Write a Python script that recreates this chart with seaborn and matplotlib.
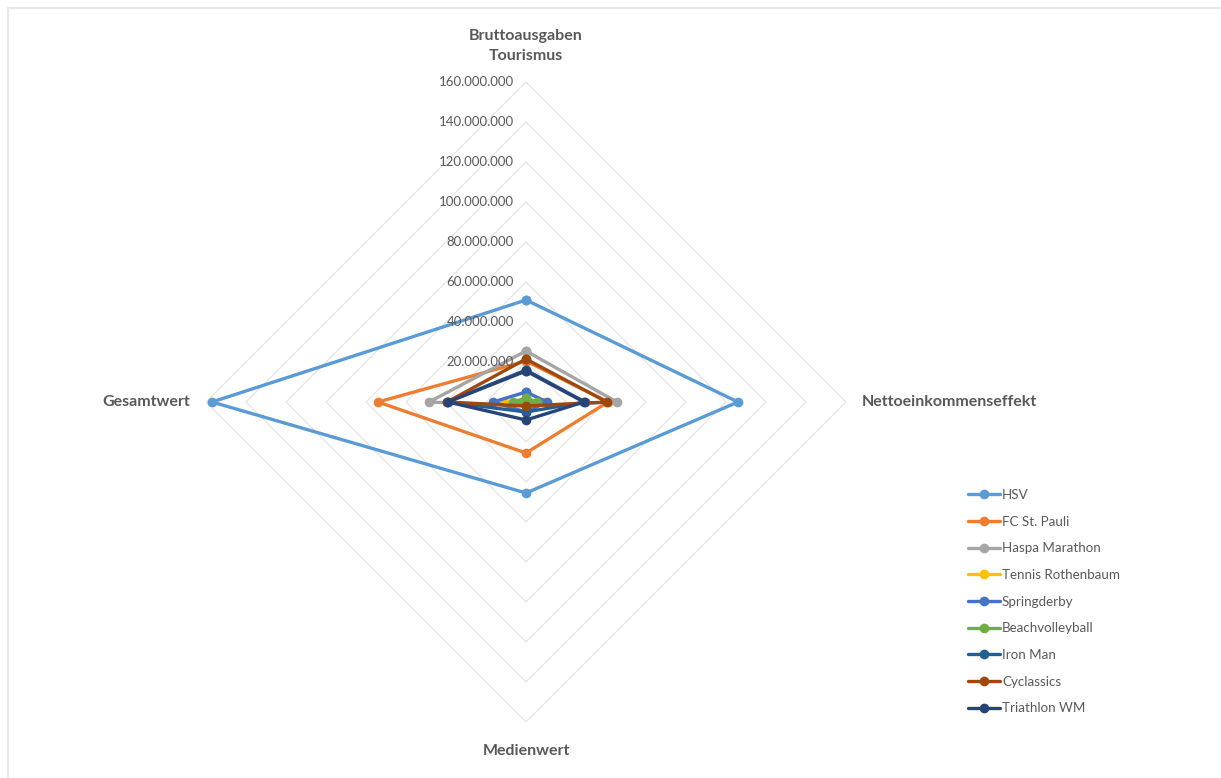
import numpy as np
import pandas as pd
import seaborn as sns
import matplotlib.pyplot as plt
from matplotlib.transforms import offset_copy
from matplotlib.patches import Rectangle

# categories (clockwise from top)
categories = ['Bruttoausgaben\nTourismus', 'Nettoeinkommenseffekt', 'Medienwert', 'Gesamtwert']

# values in Mio. EUR, same order as categories
hsv = [51, 106, 45.5, 157]
st_pauli = [20.5, 41, 25.5, 74]
haspa = [25.5, 45.5, 2, 48.5]
tennis = [1, 9, 2, 11]
springderby = [5, 10.5, 5, 16.5]
beach = [2, 5.5, 1, 6.5]
ironman = [16, 29.5, 5, 39.5]
cyclassics = [21.5, 40.5, 2, 39.5]
triathlon = [15.5, 29, 9, 39]

series = ['HSV', 'FC St. Pauli', 'Haspa Marathon', 'Tennis Rothenbaum', 'Springderby',
          'Beachvolleyball', 'Iron Man', 'Cyclassics', 'Triathlon WM']
values = [hsv, st_pauli, haspa, tennis, springderby, beach, ironman, cyclassics, triathlon]
colors = ['#5B9BD5', '#ED7D31', '#A5A5A5', '#FFC000', '#4472C4',
          '#70AD47', '#255E91', '#9E480E', '#264478']

ticks = np.arange(20, 161, 20)

theta = np.arange(len(categories)) * 2 * np.pi / len(categories)

rows = []
for name, vals in zip(series, values):
    for i, (t, v) in enumerate(zip(list(theta) + [2 * np.pi], vals + vals[:1])):
        rows.append([name, i, t, v * 1e6])
df = pd.DataFrame(rows, columns=['series', 'order', 'theta', 'value'])

sns.set_style('white')
plt.rcParams['font.family'] = ['Lato', 'DejaVu Sans']

fig = plt.figure(figsize=(12.21, 7.78), dpi=100)
fig.patches.append(Rectangle((8 / 1221, -0.01), 1.05, (778 - 8) / 778 + 0.01, transform=fig.transFigure,
                             fill=False, edgecolor='#E8E8E8', linewidth=1.5))
ax = fig.add_axes([206 / 1221, 56 / 778, 640 / 1221, 640 / 778], projection='polar')
ax.set_theta_offset(np.pi / 2)
ax.set_theta_direction(-1)
ax.set_ylim(0, 160e6)
ax.grid(False)
ax.spines['polar'].set_visible(False)
ax.set_xticks([])
ax.set_yticks([])

# diamond grid
gt = list(theta) + [2 * np.pi]
for r in ticks:
    ax.plot(gt, [r * 1e6] * len(gt), color='#E3E3E3', lw=0.9, zorder=0)

sns.lineplot(data=df, x='theta', y='value', hue='series', palette=colors, hue_order=series,
             sort=False, estimator=None, units='series', marker='o', markersize=7,
             markeredgewidth=0, linewidth=2.4, ax=ax, legend=True)
ax.set_xlabel('')
ax.set_ylabel('')

# radial labels
lab_tr = offset_copy(ax.transData, fig=fig, x=-12, y=0, units='dots')
for r in ticks:
    ax.text(0, r * 1e6, f'{r * 1_000_000:,}'.replace(',', '.'), transform=lab_tr,
            ha='right', va='center', fontsize=9.5, color='#595959')

# category labels
cat_style = dict(fontsize=11.5, fontweight='bold', color='#595959')
ax.text(theta[0], 178e6, categories[0], ha='center', va='center', linespacing=1.55, **cat_style)
ax.text(theta[1], 168e6, categories[1], ha='left', va='center', **cat_style)
ax.text(theta[2], 174.5e6, categories[2], ha='center', va='center', **cat_style)
ax.text(theta[3], 168e6, categories[3], ha='right', va='center', **cat_style)

handles, labels = ax.get_legend_handles_labels()
ax.legend_.remove()
leg = fig.legend(handles, labels, loc='upper left', bbox_to_anchor=(956 / 1221, 1 - 477 / 778),
                 frameon=False, fontsize=9.6, handlelength=2.4, handletextpad=0.15,
                 labelspacing=1.1, labelcolor='#595959')

fig.savefig('out.png', dpi=100)
